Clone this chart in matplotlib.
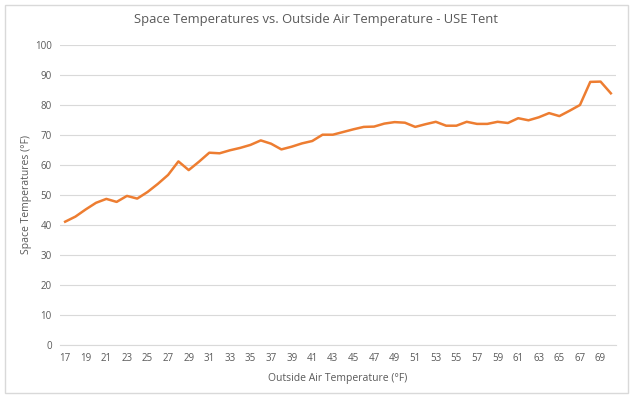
import matplotlib
matplotlib.use("Agg")
import matplotlib.pyplot as plt
from matplotlib.patches import Rectangle

# Outside air temperature categories (°F)
outside_temp = list(range(17, 71))

# Space temperatures (°F)
space_temp = [41.1, 42.8, 45.2, 47.4, 48.7, 47.7, 49.7, 48.8, 51.0, 53.7,
              56.7, 61.2, 58.3, 61.1, 64.1, 63.9, 64.9, 65.7, 66.7, 68.2,
              67.1, 65.2, 66.1, 67.2, 68.0, 70.1, 70.1, 71.0, 71.9, 72.7,
              72.8, 73.8, 74.3, 74.1, 72.7, 73.6, 74.4, 73.1, 73.1, 74.4,
              73.7, 73.7, 74.4, 74.0, 75.6, 74.9, 75.9, 77.3, 76.3, 78.1,
              80.0, 87.7, 87.8, 83.9]

y_ticks = list(range(0, 101, 10))

text_color = "#595959"
grid_color = "#D9D9D9"
line_color = "#ED7D31"

plt.rcParams['font.family'] = ['Open Sans', 'DejaVu Sans']

fig = plt.figure(figsize=(6.32, 3.98), dpi=100)
fig.patches.append(Rectangle((5 / 632, 5 / 398), 623 / 632, 388 / 398,
                             transform=fig.transFigure, fill=False,
                             edgecolor=grid_color, linewidth=1))

ax = fig.add_axes([60 / 632, 1 - 345 / 398, 556 / 632, 300 / 398])

idx = list(range(len(outside_temp)))
ax.plot(idx, space_temp, color=line_color, linewidth=1.8, solid_joinstyle='round')

ax.set_xlim(-0.5, len(outside_temp) - 0.5)
ax.set_ylim(0, 100)
ax.set_yticks(y_ticks)
ax.set_xticks(idx[::2])
ax.set_xticklabels([str(t) for t in outside_temp[::2]])

ax.grid(axis='y', color=grid_color, linewidth=0.8)
ax.set_axisbelow(True)
for s in ax.spines.values():
    s.set_visible(False)
ax.spines['bottom'].set_visible(True)
ax.spines['bottom'].set_color(grid_color)
ax.tick_params(length=0, labelsize=7, colors=text_color, pad=6)

fig.text(316 / 632, 1 - 19 / 398,
         "Space Temperatures vs. Outside Air Temperature - USE Tent",
         fontsize=9.4, color=text_color, ha='center', va='center')
ax.set_xlabel("Outside Air Temperature (°F)", fontsize=7.5, color=text_color, labelpad=6)
fig.text(27 / 632, 1 - 195 / 398, "Space Temperatures (°F)", rotation=90,
         fontsize=7.5, color=text_color, ha='center', va='center')

fig.savefig("out.png", dpi=100)
